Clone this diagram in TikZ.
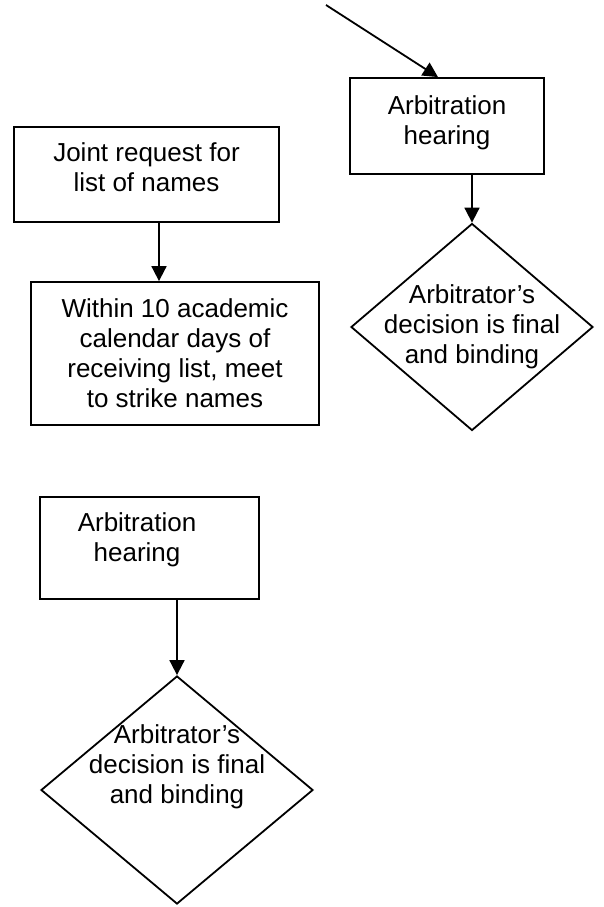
\documentclass[tikz,border=0pt]{standalone}
\usepackage{fontspec}
\setmainfont{Liberation Sans}
\usetikzlibrary{shapes.geometric,arrows.meta}

\begin{document}
\begin{tikzpicture}[x=1pt,y=-1pt,
        box/.style={draw,rectangle,line width=1.8pt,align=center,font=\fontsize{26}{30}\selectfont},
        decision/.style={draw,diamond,line width=1.8pt,inner sep=0pt},
        words/.style={align=center,font=\fontsize{26}{30}\selectfont},
        arr/.style={line width=1.8pt,-{Triangle[length=15pt,width=15pt]}}]
        % Frame
        \useasboundingbox (0,0) rectangle (603,907);

        % Right column
        \coordinate (entry) at (326,5);
        \node[box,text depth=12pt,minimum width=194pt,minimum height=96pt] (hearA) at (447,126) {Arbitration\\hearing};
        \node[decision,minimum width=242pt,minimum height=207pt,
              label={[words]center:{Arbitrator's\\decision is final\\and binding}}] (decA) at (472,327) {};
        \draw[arr] (entry) -- ([xshift=-9pt]hearA.north);
        \draw[arr] ([xshift=25pt]hearA.south) -- (decA.north);

        % Left column
        \node[box,text depth=14pt,minimum width=265pt,minimum height=95pt] (joint) at (146.5,174.5) {Joint request for\\list of names};
        \node[box,minimum width=288pt,minimum height=143pt] (strike) at (175,353.5) {Within 10 academic\\calendar days of\\receiving list, meet\\to strike names};
        \draw[arr] ([xshift=12.5pt]joint.south) -- ([xshift=-16pt]strike.north);

        % Bottom
        \node[box,minimum width=219pt,minimum height=102pt,
              label={[words,xshift=-12.5pt,yshift=8pt]center:{Arbitration\\hearing}}] (hearB) at (149.5,548) {};
        \node[decision,minimum width=272pt,minimum height=228pt,
              label={[words,yshift=23pt]center:{Arbitrator's\\decision is final\\and binding}}] (decB) at (177,790) {};
        \draw[arr] ([xshift=27.5pt]hearB.south) -- (decB.north);

\end{tikzpicture}
\end{document}
